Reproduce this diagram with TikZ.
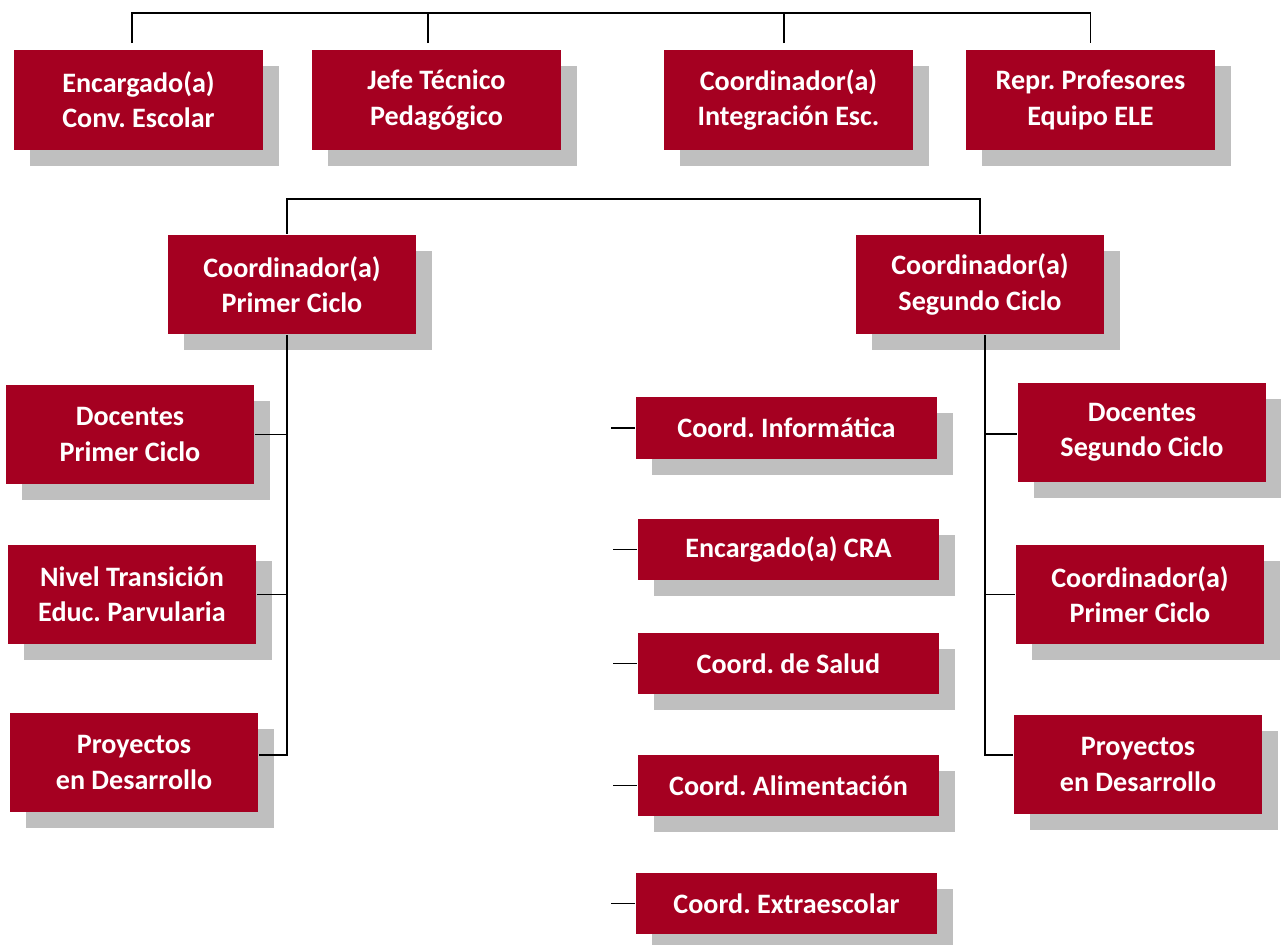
\documentclass[tikz,border=0pt]{standalone}
\usepackage{fontspec}
\setmainfont{Carlito}
\frenchspacing
\usetikzlibrary{shadows}
\definecolor{boxred}{HTML}{A50021}
\definecolor{shadegray}{HTML}{BFBFBF}

\begin{document}
\begin{tikzpicture}[x=0.02cm, y=-0.02cm, line width=1.1pt]
    \tikzstyle{role}=[fill=boxred, text=white, font=\fontsize{16}{20}\selectfont\bfseries, align=center, minimum width=4.98cm, minimum height=2cm, inner sep=0pt, general shadow={fill=shadegray, shadow xshift=0.32cm, shadow yshift=-0.32cm}]
    \tikzstyle{task}=[role, minimum width=6.02cm, minimum height=1.24cm]

    \useasboundingbox (0,0) rectangle (1281,945);

    % top row
    \node[role] at (138.5,100) (conv)  {Encargado(a)\\Conv. Escolar};
    \node[role] at (436.5,100) (jefe)  {Jefe Técnico\\Pedagógico};
    \node[role] at (788.5,100) (integ) {Coordinador(a)\\Integración Esc.};
    \node[role] at (1090.5,100) (repr) {Repr. Profesores\\Equipo ELE};

    \coordinate (bus) at (0,13);
    \draw ([shift={(-0.13cm,0.12cm)}]conv.north) |- (bus -| repr.north) -- ([yshift=0.12cm]repr.north);
    \draw ([shift={(-0.17cm,0.12cm)}]jefe.north) -- ++(0,-31);
    \draw ([shift={(-0.09cm,0.12cm)}]integ.north) -- ++(0,-31);

    % cycle coordinators
    \node[role] at (292,284.5) (prim) {Coordinador(a)\\Primer Ciclo};
    \node[role] at (980,284.5) (seg)  {Coordinador(a)\\Segundo Ciclo};
    \coordinate (ltrunk) at ([xshift=-0.1cm]prim.south);
    \coordinate (rtrunk) at ([xshift=0.1cm]seg.south);
    \draw (ltrunk |- prim.north) -- ++(0,-35) -| (seg.north);

    % first cycle
    \node[role] at (130,434.5) (docp)  {Docentes\\Primer Ciclo};
    \node[role] at (132,594.5) (niv)   {Nivel Transición\\Educ. Parvularia};
    \node[role] at (134,762.5) (proyp) {Proyectos\\en Desarrollo};
    \draw (ltrunk) |- ([yshift=0.15cm]proyp.east);
    \foreach \n in {docp, niv}
        \draw (\n.east) -- (\n.east -| ltrunk);

    % second cycle
    \node[role] at (1142,432.5) (docs)  {Docentes\\Segundo Ciclo};
    \node[role] at (1140,594.5) (coorp) {Coordinador(a)\\Primer Ciclo};
    \node[role] at (1138,764.5) (proys) {Proyectos\\en Desarrollo};
    \draw (rtrunk) |- ([yshift=0.19cm]proys.west);
    \draw ([yshift=-0.03cm]docs.west) -- ([yshift=-0.03cm]docs.west -| rtrunk);
    \draw (coorp.west) -- (coorp.west -| rtrunk);

    % middle column
    \node[task] at (786.5,428)   (info)  {Coord. Informática};
    \node[task] at (788.5,549.5) (cra)   {Encargado(a) CRA};
    \node[task] at (788.5,663.5) (salud) {Coord. de Salud};
    \node[task] at (788.5,785.5) (alim)  {Coord. Alimentación};
    \node[task] at (786.5,903.5) (extra) {Coord. Extraescolar};
    \foreach \n in {info, cra, salud, alim, extra}
        \draw (\n.west) -- ++(-24,0);
\end{tikzpicture}
\end{document}
